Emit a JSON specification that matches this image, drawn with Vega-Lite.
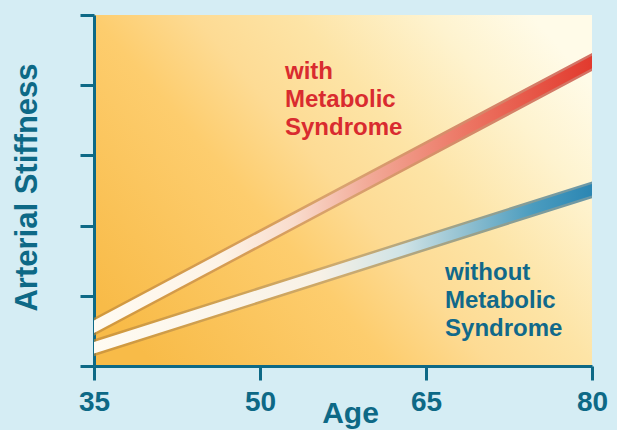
{
  "$schema": "https://vega.github.io/schema/vega-lite/v6.json",
  "autosize": {"type": "none"},
  "width": 498,
  "height": 351,
  "padding": {"left": 94, "top": 15, "right": 25, "bottom": 64},
  "background": "#d5edf4",
  "view": {
    "stroke": null,
    "fill": {
      "gradient": "linear",
      "x1": 0, "y1": 0.8, "x2": 1, "y2": 0.2,
      "stops": [
        {"offset": 0, "color": "#f8bb48"},
        {"offset": 0.35, "color": "#fdcd6e"},
        {"offset": 0.5, "color": "#fddb94"},
        {"offset": 0.65, "color": "#fde4a6"},
        {"offset": 0.85, "color": "#fef3cf"},
        {"offset": 1, "color": "#fffbe8"}
      ]
    }
  },
  "datasets": {
    "lines": [
      {"age": 35, "value": 0.56, "group": "with"},
      {"age": 80, "value": 4.33, "group": "with"},
      {"age": 35, "value": 0.26, "group": "without"},
      {"age": 80, "value": 2.51, "group": "without"}
    ],
    "labels": [
      {"age": 52.26, "value": 4.09, "group": "with", "label": "with\nMetabolic\nSyndrome"},
      {"age": 66.72, "value": 1.23, "group": "without", "label": "without\nMetabolic\nSyndrome"}
    ]
  },
  "data": {"name": "lines"},
  "encoding": {
    "x": {
      "field": "age", "type": "quantitative",
      "scale": {"domain": [35, 80], "nice": false, "zero": false},
      "axis": {
        "values": [35, 50, 65, 80], "title": "Age", "grid": false,
        "domainColor": "#0d6986", "domainWidth": 3,
        "tickColor": "#0d6986", "tickWidth": 3, "tickSize": 14,
        "labelFont": "Liberation Sans", "labelFontWeight": "bold", "labelFontSize": 28,
        "labelColor": "#0d6986", "labelBaseline": "alphabetic", "labelPadding": 30,
        "labelFlush": false, "labelOverlap": false,
        "titleFont": "Liberation Sans", "titleFontWeight": "bold", "titleFontSize": 30,
        "titleColor": "#0d6986", "titleBaseline": "alphabetic", "titleX": 256, "titleY": 56,
        "titleAlign": "center"
      }
    },
    "y": {
      "field": "value", "type": "quantitative",
      "scale": {"domain": [0, 5], "nice": false, "zero": false},
      "axis": {
        "values": [0, 1, 2, 3, 4, 5], "labels": false, "title": "Arterial Stiffness", "grid": false,
        "domainColor": "#0d6986", "domainWidth": 3,
        "tickColor": "#0d6986", "tickWidth": 3, "tickSize": 14,
        "titleFont": "Liberation Sans", "titleFontWeight": "bold", "titleFontSize": 31,
        "titleColor": "#0d6986", "titleAngle": -90, "titleBaseline": "alphabetic",
        "titleAlign": "center", "titleX": -58, "titleY": 172
      }
    }
  },
  "layer": [
    {
      "transform": [{"filter": "datum.group === 'with'"}],
      "mark": {
        "type": "line", "clip": true, "strokeWidth": 16, "strokeCap": "square", "opacity": 0.7,
        "stroke": {
          "gradient": "linear", "x1": 0, "y1": 0, "x2": 1, "y2": 0,
          "stops": [
            {"offset": 0, "color": "#c08a38"},
            {"offset": 0.5, "color": "#c98a60"},
            {"offset": 1, "color": "#c0342a"}
          ]
        }
      }
    },
    {
      "transform": [{"filter": "datum.group === 'with'"}],
      "mark": {
        "type": "line", "clip": true, "strokeWidth": 11, "strokeCap": "square",
        "stroke": {
          "gradient": "linear", "x1": 0, "y1": 0, "x2": 1, "y2": 0,
          "stops": [
            {"offset": 0, "color": "#fffbf2"},
            {"offset": 0.25, "color": "#fdf3e6"},
            {"offset": 0.4, "color": "#f9dccd"},
            {"offset": 0.55, "color": "#f2aa98"},
            {"offset": 0.75, "color": "#ec7563"},
            {"offset": 1, "color": "#e23a2e"}
          ]
        }
      }
    },
    {
      "transform": [{"filter": "datum.group === 'without'"}],
      "mark": {
        "type": "line", "clip": true, "strokeWidth": 16, "strokeCap": "square", "opacity": 0.7,
        "stroke": {
          "gradient": "linear", "x1": 0, "y1": 0, "x2": 1, "y2": 0,
          "stops": [
            {"offset": 0, "color": "#c08a38"},
            {"offset": 0.5, "color": "#b89a6a"},
            {"offset": 1, "color": "#2a7096"}
          ]
        }
      }
    },
    {
      "transform": [{"filter": "datum.group === 'without'"}],
      "mark": {
        "type": "line", "clip": true, "strokeWidth": 11, "strokeCap": "square",
        "stroke": {
          "gradient": "linear", "x1": 0, "y1": 0, "x2": 1, "y2": 0,
          "stops": [
            {"offset": 0, "color": "#fffbf2"},
            {"offset": 0.45, "color": "#f8f1e6"},
            {"offset": 0.62, "color": "#cfe3e6"},
            {"offset": 0.75, "color": "#8fbfd0"},
            {"offset": 0.88, "color": "#4b9cbf"},
            {"offset": 1, "color": "#2b86b3"}
          ]
        }
      }
    },
    {
      "data": {"name": "labels"},
      "mark": {
        "type": "text", "align": "left", "baseline": "alphabetic", "lineBreak": "\n",
        "lineHeight": 28, "font": "Liberation Sans", "fontWeight": "bold", "fontSize": 24
      },
      "encoding": {
        "text": {"field": "label"},
        "color": {
          "field": "group", "type": "nominal", "legend": null,
          "scale": {"domain": ["with", "without"], "range": ["#d92b2f", "#11698a"]}
        }
      }
    }
  ]
}
